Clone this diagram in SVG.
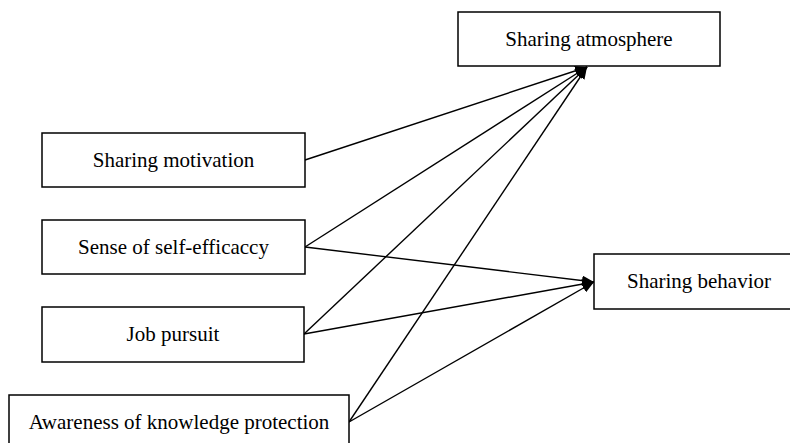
<svg xmlns="http://www.w3.org/2000/svg" width="790" height="443" viewBox="0 0 790 443">
<defs>
<style>
.box{fill:#fff;stroke:#000;stroke-width:1.5}
.lbl{font-family:"Liberation Serif","Times New Roman",serif;font-size:21px;fill:#000;text-anchor:middle}
.edge{stroke:#000;stroke-width:1.4;fill:none;marker-end:url(#arr)}
</style>
<marker id="arr" viewBox="0 0 12 10" refX="12" refY="5" markerWidth="12" markerHeight="10" markerUnits="userSpaceOnUse" orient="auto">
<path d="M0,0 L12,5 L0,10 Z" fill="#000"/>
</marker>
</defs>
<rect width="790" height="443" fill="#fff"/>
<g id="connectors">
<line class="edge" x1="305" y1="160" x2="587" y2="67"/>
<line class="edge" x1="305" y1="247" x2="587" y2="67"/>
<line class="edge" x1="304" y1="334" x2="587" y2="67"/>
<line class="edge" x1="349" y1="422" x2="587" y2="67"/>
<line class="edge" x1="305" y1="247" x2="594" y2="282"/>
<line class="edge" x1="304" y1="334" x2="594" y2="282"/>
<line class="edge" x1="349" y1="422" x2="594" y2="282"/>
</g>
<g id="sharing-atmosphere">
<rect class="box" x="458" y="12" width="262" height="54"/>
<text class="lbl" x="589" y="46">Sharing atmosphere</text>
</g>
<g id="sharing-motivation">
<rect class="box" x="42" y="133" width="263" height="54"/>
<text class="lbl" x="173.5" y="167">Sharing motivation</text>
</g>
<g id="self-efficacy">
<rect class="box" x="42" y="220" width="263" height="54"/>
<text class="lbl" x="173.5" y="254">Sense of self-efficaccy</text>
</g>
<g id="job-pursuit">
<rect class="box" x="42" y="307" width="262" height="55"/>
<text class="lbl" x="173" y="341">Job pursuit</text>
</g>
<g id="awareness">
<rect class="box" x="9" y="395" width="340" height="55"/>
<text class="lbl" x="179" y="429">Awareness of knowledge protection</text>
</g>
<g id="sharing-behavior">
<rect class="box" x="594" y="254" width="210" height="55"/>
<text class="lbl" x="699" y="288">Sharing behavior</text>
</g>
</svg>
